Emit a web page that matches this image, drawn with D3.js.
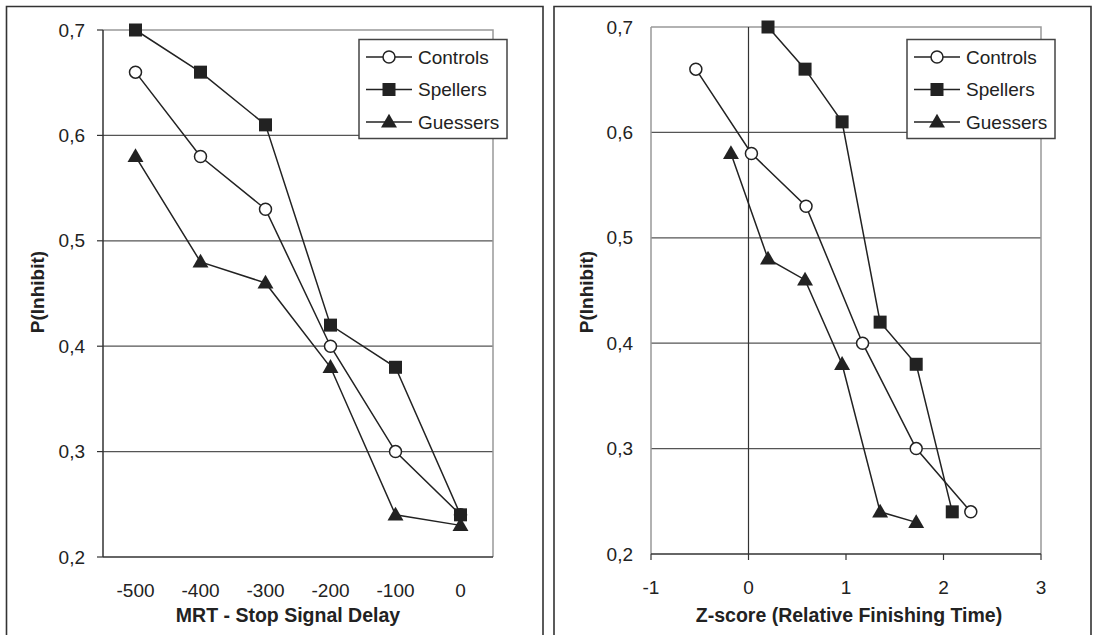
<!DOCTYPE html>
<html>
<head>
<meta charset="utf-8">
<script src="https://cdn.jsdelivr.net/npm/d3@7/dist/d3.min.js"></script>
<style>
  html, body { margin: 0; padding: 0; background: #fff; }
  svg { display: block; }
  text { font-family: "Liberation Sans", Arial, sans-serif; fill: #222; }
</style>
</head>
<body>
<svg id="chart" width="1095" height="635"></svg>
<script>
// ---- data ----
const delays = [-500, -400, -300, -200, -100, 0];
const yTicks = [0.2, 0.3, 0.4, 0.5, 0.6, 0.7];
const zTicks = [-1, 0, 1, 2, 3];
const seriesNames = ["Controls", "Spellers", "Guessers"];
const controlsP = [0.66, 0.58, 0.53, 0.40, 0.30, 0.24];
const spellersP = [0.70, 0.66, 0.61, 0.42, 0.38, 0.24];
const guessersP = [0.58, 0.48, 0.46, 0.38, 0.24, 0.23];
const controlsZ = [-0.54, 0.03, 0.59, 1.17, 1.72, 2.28];
const spellersZ = [0.20, 0.58, 0.96, 1.35, 1.72, 2.09];
const guessersZ = [-0.18, 0.20, 0.58, 0.96, 1.35, 1.72];

const svg = d3.select("#chart");
const INK = "#222";
const fmt = d => d3.format(".1f")(d).replace(".", ",");
const markerTypes = { Controls: "circle", Spellers: "square", Guessers: "triangle" };

function drawMarker(g, type, x, y) {
  if (type === "circle") {
    g.append("circle").attr("cx", x).attr("cy", y).attr("r", 6)
      .attr("fill", "#fff").attr("stroke", INK).attr("stroke-width", 1.5);
  } else if (type === "square") {
    g.append("rect").attr("x", x - 6.5).attr("y", y - 6.5).attr("width", 13).attr("height", 13)
      .attr("fill", INK);
  } else {
    g.append("path").attr("d", d3.symbol(d3.symbolTriangle, 110)())
      .attr("transform", `translate(${x},${y + 1})`).attr("fill", INK);
  }
}

function panel(opts) {
  const g = svg.append("g");
  // outer frame (open at bottom)
  g.append("path")
    .attr("d", `M${opts.fx0},640 V6.5 H${opts.fx1} V640`)
    .attr("fill", "none").attr("stroke", "#333").attr("stroke-width", 1.6);

  const x = opts.x, y = opts.y;
  const [x0, x1] = x.range();
  const [yb, yt] = y.range();

  // gridlines
  g.selectAll(".grid").data(yTicks.filter(t => t > 0.2 && t < 0.7)).join("line")
    .attr("x1", x0).attr("x2", x1).attr("y1", d => y(d)).attr("y2", d => y(d))
    .attr("stroke", "#555").attr("stroke-width", 1.2);
  // plot border top/right gray
  g.append("path").attr("d", `M${x0},${yt} H${x1} V${yb}`)
    .attr("fill", "none").attr("stroke", "#999").attr("stroke-width", 1.5);

  if (opts.vline !== undefined) {
    g.append("line").attr("x1", x(opts.vline)).attr("x2", x(opts.vline))
      .attr("y1", yt).attr("y2", yb).attr("stroke", "#333").attr("stroke-width", 1.2);
  }

  // y axis
  g.append("line").attr("x1", x0).attr("x2", x0).attr("y1", yt).attr("y2", yb)
    .attr("stroke", opts.yAxisColor).attr("stroke-width", 1.5);
  if (opts.yTickMarks) {
    g.selectAll(".yt").data(yTicks).join("line")
      .attr("x1", x0 - 6).attr("x2", x0).attr("y1", d => y(d)).attr("y2", d => y(d))
      .attr("stroke", "#333").attr("stroke-width", 1.2);
  }
  g.selectAll(".yl").data(yTicks).join("text")
    .attr("x", x0 - 18).attr("y", d => y(d)).attr("dy", "0.35em")
    .attr("text-anchor", "end").attr("font-size", 19).text(fmt);

  // x axis
  g.append("line").attr("x1", x0).attr("x2", x1).attr("y1", yb).attr("y2", yb)
    .attr("stroke", "#333").attr("stroke-width", 1.6);
  if (opts.xTickMarks) {
    g.selectAll(".xt").data(opts.xTicks).join("line")
      .attr("x1", d => x(d)).attr("x2", d => x(d)).attr("y1", yb).attr("y2", yb + 6)
      .attr("stroke", "#333").attr("stroke-width", 1.2);
  }
  g.selectAll(".xl").data(opts.xTicks).join("text")
    .attr("x", d => x(d)).attr("y", yb + 33).attr("dy", "0.35em")
    .attr("text-anchor", "middle").attr("font-size", 19).text(d => d);

  // titles
  g.append("text").attr("x", opts.xTitleX).attr("y", 622)
    .attr("text-anchor", "middle").attr("font-size", 19.5).attr("font-weight", "bold")
    .text(opts.xTitle);
  g.append("text").attr("transform", `translate(${opts.yTitleX},292) rotate(-90)`)
    .attr("text-anchor", "middle").attr("dy", "0.35em")
    .attr("font-size", 19).attr("font-weight", "bold").text("P(Inhibit)");

  // series
  const line = d3.line().x(d => x(d[0])).y(d => y(d[1]));
  opts.series.forEach(s => {
    g.append("path").datum(s.pts).attr("d", line)
      .attr("fill", "none").attr("stroke", INK).attr("stroke-width", 1.5);
  });
  opts.series.forEach(s => {
    const mg = g.append("g");
    s.pts.forEach(p => drawMarker(mg, markerTypes[s.name], x(p[0]), y(p[1])));
  });

  // legend
  const L = opts.legend;
  g.append("rect").attr("x", L.x).attr("y", L.y).attr("width", 148).attr("height", 99)
    .attr("fill", "#fff").attr("stroke", "#444").attr("stroke-width", 1.5);
  seriesNames.forEach((n, i) => {
    const cy = L.y + 17.5 + i * 32.5;
    g.append("line").attr("x1", L.x + 7).attr("x2", L.x + 53).attr("y1", cy).attr("y2", cy)
      .attr("stroke", INK).attr("stroke-width", 1.5);
    drawMarker(g, markerTypes[n], L.x + 30, cy);
    g.append("text").attr("x", L.x + 59).attr("y", cy).attr("dy", "0.36em")
      .attr("font-size", 19).text(n);
  });
}

// left panel
const xLeft = d3.scalePoint().domain(delays).range([103, 493]).padding(0.5);
const yLeft = d3.scaleLinear().domain([0.2, 0.7]).range([557, 30]);
panel({
  fx0: 6.5, fx1: 543,
  x: xLeft, y: yLeft, xTicks: delays, xTickMarks: false, yTickMarks: true,
  yAxisColor: "#333",
  xTitle: "MRT - Stop Signal Delay", xTitleX: 288, yTitleX: 37,
  series: [
    { name: "Controls", pts: delays.map((d, i) => [d, controlsP[i]]) },
    { name: "Spellers", pts: delays.map((d, i) => [d, spellersP[i]]) },
    { name: "Guessers", pts: delays.map((d, i) => [d, guessersP[i]]) }
  ],
  legend: { x: 359, y: 39.5 }
});

// right panel
const xRight = d3.scaleLinear().domain([-1, 3]).range([651, 1041]);
const yRight = d3.scaleLinear().domain([0.2, 0.7]).range([554, 27]);
panel({
  fx0: 554, fx1: 1091,
  x: xRight, y: yRight, xTicks: zTicks, xTickMarks: true, yTickMarks: false,
  yAxisColor: "#999", vline: 0,
  xTitle: "Z-score (Relative Finishing Time)", xTitleX: 849, yTitleX: 586,
  series: [
    { name: "Controls", pts: controlsZ.map((z, i) => [z, controlsP[i]]) },
    { name: "Spellers", pts: spellersZ.map((z, i) => [z, spellersP[i]]) },
    { name: "Guessers", pts: guessersZ.map((z, i) => [z, guessersP[i]]) }
  ],
  legend: { x: 907, y: 39.5 }
});
</script>
</body>
</html>
